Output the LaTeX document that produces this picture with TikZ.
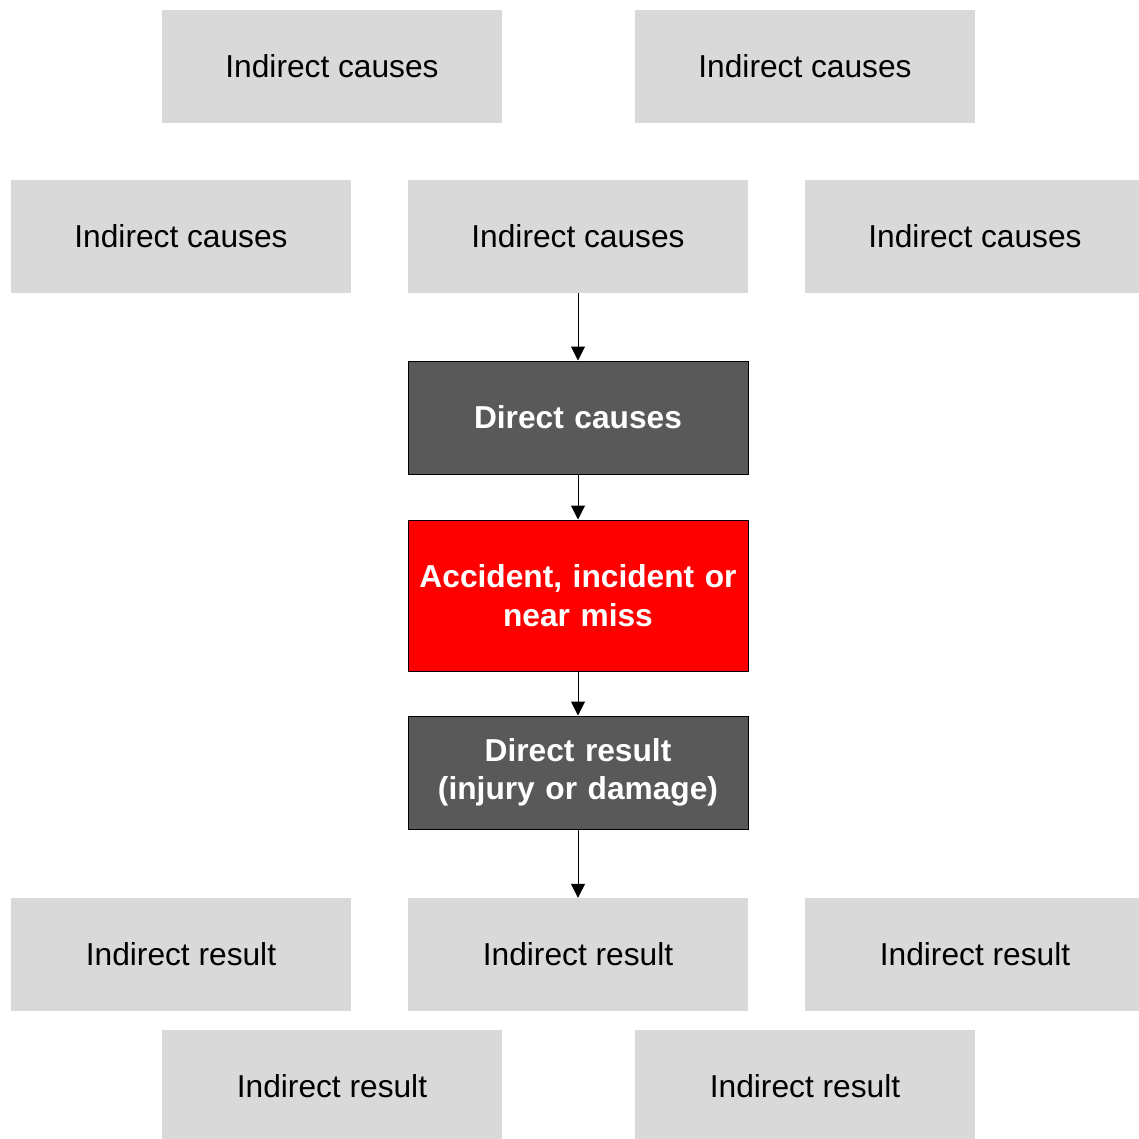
\documentclass[tikz,border=0pt]{standalone}
\usepackage{fontspec}
\setmainfont{Liberation Sans}
\usetikzlibrary{arrows.meta}

\definecolor{boxgray}{HTML}{D9D9D9}
\definecolor{boxdark}{HTML}{595959}
\definecolor{boxred}{HTML}{FF0000}

\begin{document}
\begin{tikzpicture}[
  x=1pt, y=-1pt,
  every node/.style={font=\fontsize{31.7}{38.5}\selectfont, align=center},
  indirect/.style={
    fill=boxgray,
    minimum width=340pt, minimum height=113pt,
    inner sep=0pt,
  },
  direct/.style={
    fill=boxdark, draw=black, line width=1pt, text=white,
    font=\fontsize{31.7}{38.5}\selectfont\bfseries,
    minimum width=340pt, minimum height=113pt,
    inner sep=0pt, text width=330pt,
  },
  flow/.style={-{Triangle[length=14pt,width=14pt]}, line width=1pt},
  ]
  \useasboundingbox (0,0) rectangle (1139,1138);
  % indirect causes
  \node[indirect] (cause1) at (332,66.5) {Indirect causes};
  \node[indirect] (cause2) at (805,66.5) {Indirect causes};
  \node[indirect] (cause3) at (181,236.5) {Indirect causes};
  \node[indirect] (cause4) at (578,236.5) {Indirect causes};
  \node[indirect] (cause5) at (975,236.5) {Indirect causes};
  % the chain
  \node[direct] (dcause) at (578,417.5) {Direct causes};
  \node[direct, fill=boxred, minimum height=151pt] (event) at (578,595.5) {Accident, incident or\\near miss};
  \node[direct] (dresult) at (578,772.5) {Direct result\\(injury or damage)};
  % indirect results
  \node[indirect] (result1) at (181,954.5) {Indirect result};
  \node[indirect] (result2) at (578,954.5) {Indirect result};
  \node[indirect] (result3) at (975,954.5) {Indirect result};
  \node[indirect] (result4) at (332,1086.5) {Indirect result};
  \node[indirect] (result5) at (805,1086.5) {Indirect result};
  \draw[flow] (cause4) -- (dcause);
  \draw[flow] (dcause) -- (event);
  \draw[flow] (event) -- (dresult);
  \draw[flow] (dresult) -- (result2);
\end{tikzpicture}
\end{document}
